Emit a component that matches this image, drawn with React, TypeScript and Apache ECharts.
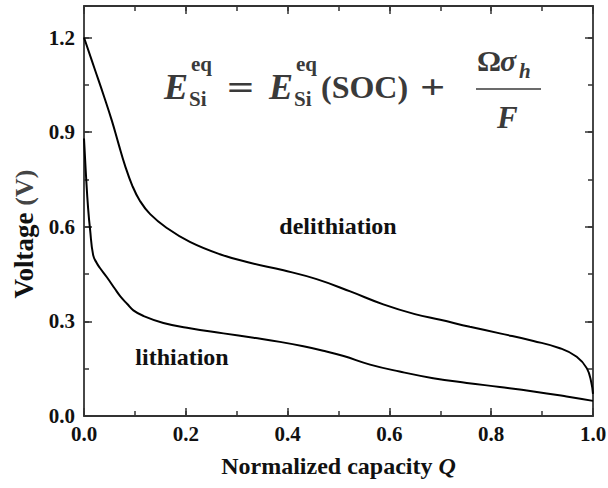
import React, { useEffect, useRef } from "react";
import * as echarts from "echarts";

// Normalized capacity Q and voltage (V) along each branch of the cycle
const delithQ = [0.0, 0.02, 0.04, 0.055, 0.068, 0.08, 0.095, 0.11, 0.13, 0.162, 0.208, 0.267, 0.326, 0.392, 0.457, 0.523, 0.588, 0.65, 0.7, 0.758, 0.817, 0.883, 0.935, 0.968, 0.988, 0.997, 1.0];
const delithV = [1.2, 1.105, 1.01, 0.935, 0.862, 0.797, 0.73, 0.682, 0.64, 0.597, 0.552, 0.513, 0.486, 0.462, 0.434, 0.395, 0.354, 0.323, 0.305, 0.283, 0.262, 0.238, 0.215, 0.188, 0.151, 0.104, 0.07];

const lithQ = [0.0, 0.004, 0.008, 0.012, 0.018, 0.025, 0.031, 0.045, 0.06, 0.071, 0.085, 0.097, 0.117, 0.156, 0.208, 0.274, 0.333, 0.385, 0.431, 0.47, 0.51, 0.562, 0.62, 0.686, 0.752, 0.817, 0.883, 0.948, 1.0];
const lithV = [0.88, 0.76, 0.66, 0.59, 0.51, 0.485, 0.47, 0.44, 0.405, 0.38, 0.355, 0.335, 0.317, 0.295, 0.278, 0.262, 0.248, 0.235, 0.221, 0.207, 0.19, 0.163, 0.141, 0.12, 0.105, 0.092, 0.078, 0.062, 0.048];

const branchLabels = ["delithiation", "lithiation"];
const xTitle = "Normalized capacity";
const yTitle = "Voltage";

const SERIF = "Liberation Serif";
const INK = "#111";
const MATH_INK = "#3a3a3a";
const AXIS = "#333";

const pairs = (xs: number[], ys: number[]) => xs.map((x, i) => [x, ys[i]]);

function xAxisDef(position: "bottom" | "top", interval: number, len: number, main: boolean, labels: boolean) {
  return {
    type: "value",
    position,
    min: 0,
    max: 1,
    interval,
    splitLine: { show: false },
    axisLine: { show: main, onZero: false, lineStyle: { color: AXIS, width: 1.8 } },
    axisTick: { show: true, inside: true, length: len, lineStyle: { color: AXIS, width: 1.5 } },
    axisLabel: labels
      ? {
          show: true,
          margin: 7,
          fontFamily: SERIF,
          fontWeight: "bold",
          fontSize: 21,
          color: INK,
          formatter: (v: number) => v.toFixed(1),
        }
      : { show: false },
    ...(labels
      ? {
          name: xTitle + " {q|Q}",
          nameLocation: "middle",
          nameGap: 38,
          nameTextStyle: {
            fontFamily: SERIF,
            fontWeight: "bold",
            fontSize: 24,
            color: INK,
            rich: {
              q: { fontFamily: SERIF, fontWeight: "bold", fontStyle: "italic", fontSize: 24, color: INK },
            },
          },
        }
      : {}),
  };
}

function yAxisDef(position: "left" | "right", interval: number, len: number, main: boolean, labels: boolean) {
  return {
    type: "value",
    position,
    min: 0,
    max: 1.3,
    interval,
    splitLine: { show: false },
    axisLine: { show: main, onZero: false, lineStyle: { color: AXIS, width: 1.8 } },
    axisTick: { show: true, inside: true, length: len, lineStyle: { color: AXIS, width: 1.5 } },
    axisLabel: labels
      ? {
          show: true,
          margin: 9,
          fontFamily: SERIF,
          fontWeight: "bold",
          fontSize: 21,
          color: INK,
          formatter: (v: number) => (v > 1.25 ? "" : v.toFixed(1)),
        }
      : { show: false },
    ...(labels
      ? {
          name: "{b|" + yTitle + "} {u|(V)}",
          nameLocation: "middle",
          nameGap: 44,
          nameRotate: 90,
          nameTextStyle: {
            fontFamily: SERIF,
            fontWeight: "bold",
            fontSize: 27,
            color: INK,
            padding: [0, 46, 0, 0],
            rich: {
              b: { fontFamily: SERIF, fontWeight: "bold", fontSize: 27, color: INK },
              u: { fontFamily: SERIF, fontWeight: "bold", fontSize: 26, color: "#444" },
            },
          },
        }
      : {}),
  };
}

// Equation pieces laid out by hand
function equation() {
  const t = (text: string, x: number, y: number, size: number, italic = false, scaleX = 1) => ({
    type: "text",
    x,
    y,
    scaleX,
    style: {
      text,
      fontFamily: SERIF,
      fontWeight: "bold",
      fontStyle: italic ? "italic" : "normal",
      fontSize: size,
      fill: MATH_INK,
      align: "left",
      verticalAlign: "middle",
    },
  });
  return [
    t("E", 164, 87, 36, true),
    t("eq", 191, 64, 21),
    t("Si", 189, 99, 21),
    t("=", 227, 87, 34, false, 1.4),
    t("E", 269, 87, 36, true),
    t("eq", 296, 64, 21),
    t("Si", 294, 99, 21),
    t("(SOC)", 321, 87, 32),
    t("+", 420, 87, 34, false, 1.3),
    t("\u03A9", 477, 60, 30),
    t("\u03C3", 500, 60, 30, true),
    t("h", 519, 71, 21, true),
    {
      type: "line",
      shape: { x1: 476, y1: 89, x2: 541, y2: 89 },
      style: { stroke: MATH_INK, lineWidth: 1.5 },
    },
    t("F", 497, 117, 31, true),
  ];
}

export default function App() {
  const ref = useRef<HTMLDivElement>(null);

  useEffect(() => {
    if (!ref.current) return;
    const chart = echarts.init(ref.current, undefined, { renderer: "svg" });
    const lineStyle = { color: "#000", width: 2 };
    chart.setOption({
      animation: false,
      backgroundColor: "#fff",
      grid: { left: 84, right: 15, top: 6, bottom: 72, containLabel: false, outerBoundsMode: "none" },
      xAxis: [
        xAxisDef("bottom", 0.2, 8, true, true),
        xAxisDef("bottom", 0.1, 5, false, false),
        xAxisDef("top", 0.2, 8, true, false),
        xAxisDef("top", 0.1, 5, false, false),
      ],
      yAxis: [
        yAxisDef("left", 0.3, 8, true, true),
        yAxisDef("left", 0.15, 5, false, false),
        yAxisDef("right", 0.3, 8, true, false),
        yAxisDef("right", 0.15, 5, false, false),
      ],
      series: [
        {
          name: branchLabels[0],
          type: "line",
          data: pairs(delithQ, delithV),
          showSymbol: false,
          symbol: "none",
          smooth: 0.45,
          lineStyle,
        },
        {
          name: branchLabels[1],
          type: "line",
          data: pairs(lithQ, lithV),
          showSymbol: false,
          symbol: "none",
          smooth: 0.45,
          lineStyle,
        },
      ],
      graphic: [
        {
          type: "text",
          x: 338,
          y: 226,
          style: {
            text: branchLabels[0],
            fontFamily: SERIF,
            fontWeight: "bold",
            fontSize: 24,
            fill: INK,
            align: "center",
            verticalAlign: "middle",
          },
        },
        {
          type: "text",
          x: 182,
          y: 357,
          style: {
            text: branchLabels[1],
            fontFamily: SERIF,
            fontWeight: "bold",
            fontSize: 24,
            fill: INK,
            align: "center",
            verticalAlign: "middle",
          },
        },
        ...equation(),
      ],
    });
    return () => chart.dispose();
  }, []);

  return (
    <div
      ref={ref}
      style={{ position: "fixed", left: 0, top: 0, width: 608, height: 488, background: "#fff" }}
    />
  );
}
